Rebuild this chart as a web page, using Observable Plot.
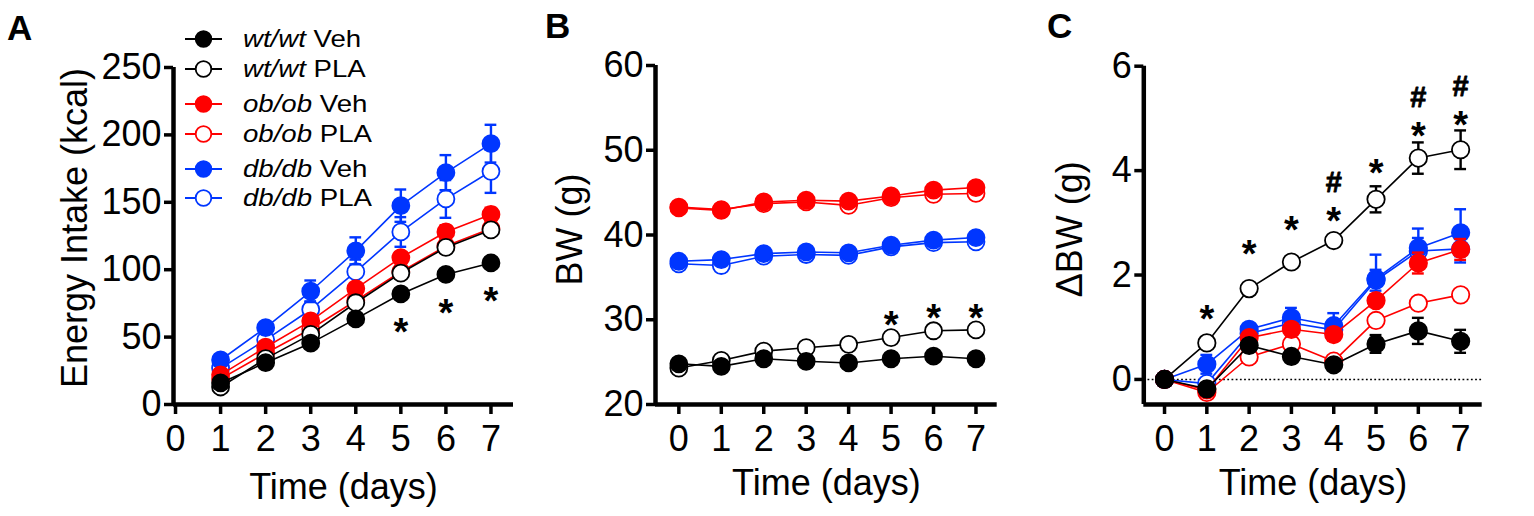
<!DOCTYPE html>
<html>
<head>
<meta charset="utf-8">
<script src="https://cdn.jsdelivr.net/npm/d3@7"></script>
<script src="https://cdn.jsdelivr.net/npm/@observablehq/plot@0.6"></script>
<style>
  html, body { margin: 0; padding: 0; background: #fff; }
  #root { position: relative; width: 1534px; height: 516px; overflow: hidden; font-family: 'Liberation Sans', Arial, sans-serif; }
  .pnl { position: absolute; top: 0; }
  .leg { position: absolute; left: 0; top: 0; }
  .legrow { position: absolute; height: 30px; display: flex; align-items: center; }
  .legtxt { font-size: 24px; transform: scaleX(1.15); transform-origin: left center; white-space: nowrap; color: #000; }
</style>
</head>
<body>
<div id="root"></div>
<script>
// ---------- data ----------
const seriesGenotype = ["wt/wt", "wt/wt", "ob/ob", "ob/ob", "db/db", "db/db"];
const seriesTreatment = ["Veh", "PLA", "Veh", "PLA", "Veh", "PLA"];
const seriesColor = ["#000000", "#000000", "#ff0000", "#ff0000", "#0036ff", "#0036ff"];
const seriesFilled = [true, false, true, false, true, false];
const drawOrder = [5, 4, 3, 2, 1, 0];

const daysA = [1, 2, 3, 4, 5, 6, 7];
const daysBC = [0, 1, 2, 3, 4, 5, 6, 7];
const xTickLabels = [0, 1, 2, 3, 4, 5, 6, 7];

// Panel A: Energy intake (kcal)
const wtVehA = [16, 31, 45.5, 63.5, 82, 96.5, 105];
const wtPlaA = [13, 34, 52, 75.5, 97.5, 116.5, 129.5];
const obVehA = [22, 42.5, 62, 86, 109, 128, 141];
const obPlaA = [19, 38, 56, 77, 98.5, 117.5, 130.5];
const dbVehA = [33, 57, 84, 114, 147.5, 172, 193.5];
const dbPlaA = [27, 48, 70.5, 98.5, 128, 152.5, 173];
const wtVehA_se = [1, 2, 2, 2.5, 3, 3, 3];
const wtPlaA_se = [1, 2, 2, 3, 3, 4, 4];
const obVehA_se = [1.5, 2, 3, 3, 4, 5, 5];
const obPlaA_se = [1.5, 2, 3, 3, 4, 5, 5];
const dbVehA_se = [3, 4, 8, 10, 12, 13, 14];
const dbPlaA_se = [3, 4, 6, 9, 11, 14, 16];
const starsAx = [5, 6, 7];
const starsAy = [60, 74, 83];
const yTicksA = [0, 50, 100, 150, 200, 250];

// Panel B: BW (g)
const wtVehB = [24.8, 24.5, 25.4, 25.1, 24.9, 25.4, 25.7, 25.4];
const wtPlaB = [24.3, 25.2, 26.3, 26.7, 27.1, 27.9, 28.7, 28.8];
const obVehB = [43.2, 42.9, 43.9, 44.1, 44.0, 44.6, 45.3, 45.6];
const obPlaB = [43.3, 43.0, 43.7, 43.9, 43.5, 44.4, 44.8, 44.9];
const dbVehB = [36.9, 37.1, 37.8, 38.0, 37.9, 38.8, 39.4, 39.7];
const dbPlaB = [36.6, 36.4, 37.5, 37.7, 37.6, 38.6, 39.1, 39.2];
const seB = [0.4, 0.4, 0.4, 0.4, 0.4, 0.4, 0.4, 0.4];
const starsBx = [5, 6, 7];
const starsBy = [30.3, 31.15, 31.15];
const yTicksB = [20, 30, 40, 50, 60];

// Panel C: ΔBW (g)
const wtVehC = [0, -0.18, 0.65, 0.44, 0.28, 0.68, 0.93, 0.73];
const wtPlaC = [0, 0.70, 1.74, 2.25, 2.66, 3.45, 4.24, 4.40];
const obVehC = [0, -0.20, 0.80, 0.96, 0.86, 1.51, 2.23, 2.49];
const obPlaC = [0, -0.25, 0.43, 0.68, 0.35, 1.13, 1.46, 1.62];
const dbVehC = [0, 0.29, 0.96, 1.18, 1.03, 1.93, 2.52, 2.81];
const dbPlaC = [0, -0.08, 0.88, 1.08, 0.95, 1.90, 2.46, 2.50];
const wtVehC_se = [0, 0.08, 0.1, 0.08, 0.08, 0.17, 0.25, 0.22];
const wtPlaC_se = [0, 0.08, 0.1, 0.1, 0.08, 0.25, 0.3, 0.37];
const obVehC_se = [0, 0.05, 0.1, 0.12, 0.12, 0.12, 0.2, 0.2];
const obPlaC_se = [0, 0.05, 0.1, 0.1, 0.1, 0.1, 0.1, 0.1];
const dbVehC_se = [0, 0.18, 0.1, 0.19, 0.24, 0.46, 0.37, 0.45];
const dbPlaC_se = [0, 0.1, 0.1, 0.12, 0.15, 0.2, 0.25, 0.26];
const starsCx = [1, 2, 3, 4, 5, 6, 7];
const starsCy = [1.32, 2.56, 3.01, 3.19, 4.12, 4.81, 5.03];
const hashCx = [4, 6, 7];
const hashCy = [3.78, 5.41, 5.63];
const yTicksC = [0, 2, 4, 6];

// ---------- drawing ----------
const FONT = "'Liberation Sans', Arial, Helvetica, sans-serif";
const root = document.getElementById("root");

function panel(cfg) {
  const marks = [];
  const cap = cfg.cap;
  if (cfg.zeroLine) {
    marks.push(Plot.ruleY([0], {stroke: "black", strokeWidth: 1.6, strokeDasharray: "1.8,2.4"}));
  }
  for (const i of drawOrder) {
    const c = seriesColor[i];
    const data = cfg.days.map((d, j) => ({x: d, y: cfg.values[i][j], se: cfg.se[i][j]}));
    const eb = data.filter(d => d.se > 0);
    marks.push(Plot.line(data, {x: "x", y: "y", stroke: c, strokeWidth: 1.6}));
    marks.push(Plot.ruleX(eb, {x: "x", y1: d => d.y - d.se, y2: d => d.y + d.se, stroke: c, strokeWidth: 2.4}));
    marks.push(Plot.ruleY(eb, {y: d => d.y + d.se, x1: d => d.x - cap, x2: d => d.x + cap, stroke: c, strokeWidth: 2.4}));
    marks.push(Plot.ruleY(eb, {y: d => d.y - d.se, x1: d => d.x - cap, x2: d => d.x + cap, stroke: c, strokeWidth: 2.4}));
    marks.push(Plot.dot(data, {x: "x", y: "y", r: cfg.r, fill: seriesFilled[i] ? c : "white", stroke: c, strokeWidth: 1.8}));
  }
  // significance marks
  marks.push(Plot.text(cfg.starsX.map((x, j) => ({x, y: cfg.starsY[j]})),
    {x: "x", y: "y", text: () => "*", fontSize: 38, fontWeight: "bold", lineAnchor: "middle", dy: 9, fill: "black"}));
  if (cfg.hashX) {
    marks.push(Plot.text(cfg.hashX.map((x, j) => ({x, y: cfg.hashY[j]})),
      {x: "x", y: "y", text: () => "#", fontSize: 29, fontWeight: "bold", lineAnchor: "middle", dy: 1,
       fill: "black", stroke: "black", strokeWidth: 0.8}));
  }
  // axes
  marks.push(Plot.axisY({ticks: cfg.yTicks, tickFormat: d => String(d), tickSize: 9, tickPadding: 3,
    fontSize: 36, strokeWidth: 3.5, label: null}));
  marks.push(Plot.axisX({ticks: xTickLabels, tickFormat: d => String(d), tickSize: 10, tickPadding: 11,
    fontSize: 36, strokeWidth: 3.5, label: null}));
  marks.push(Plot.ruleX([cfg.xDomain[0]], {stroke: "black", strokeWidth: 4.5}));
  marks.push(Plot.ruleY([cfg.yDomain[0]], {stroke: "black", strokeWidth: 4.5}));
  // axis titles
  marks.push(Plot.text(["Time (days)"], {frameAnchor: "bottom", dy: cfg.xLabelDy, fontSize: 36,
    textAnchor: "middle", lineAnchor: "middle", fill: "black"}));
  marks.push(Plot.text([cfg.yLabel], {frameAnchor: "left", rotate: -90, dx: cfg.yLabelDx, dy: cfg.yLabelDy,
    fontSize: 36, textAnchor: "middle", lineAnchor: "middle", fill: "black"}));

  const svg = Plot.plot({
    width: cfg.width, height: 516,
    marginLeft: cfg.marginLeft, marginRight: cfg.marginRight, marginTop: cfg.marginTop, marginBottom: 112,
    x: {type: "linear", domain: cfg.xDomain},
    y: {type: "linear", domain: cfg.yDomain},
    style: {fontFamily: FONT, background: "transparent", overflow: "visible", color: "black"},
    marks
  });
  const wrap = document.createElement("div");
  wrap.className = "pnl";
  wrap.style.left = cfg.left + "px";
  wrap.appendChild(svg);
  root.appendChild(wrap);
}

panel({
  left: 0, width: 520, marginLeft: 173, marginRight: 7, marginTop: 67,
  xDomain: [-0.045, 7.5], yDomain: [0, 250], yTicks: yTicksA, days: daysA, r: 8.5, cap: 0.13,
  values: [wtVehA, wtPlaA, obVehA, obPlaA, dbVehA, dbPlaA],
  se: [wtVehA_se, wtPlaA_se, obVehA_se, obPlaA_se, dbVehA_se, dbPlaA_se],
  starsX: starsAx, starsY: starsAy,
  yLabel: "Energy Intake (kcal)", yLabelDx: -98, yLabelDy: -8, xLabelDy: 83
});
panel({
  left: 520, width: 500, marginLeft: 135, marginRight: 23.3, marginTop: 65,
  xDomain: [-0.55, 7.5], yDomain: [20, 60], yTicks: yTicksB, days: daysBC, r: 8.5, cap: 0.14,
  values: [wtVehB, wtPlaB, obVehB, obPlaB, dbVehB, dbPlaB],
  se: [seB, seB, seB, seB, seB, seB],
  starsX: starsBx, starsY: starsBy,
  yLabel: "BW (g)", yLabelDx: -85, yLabelDy: -5.5, xLabelDy: 79
});
panel({
  left: 1020, width: 514, marginLeft: 123.3, marginRight: 52.3, marginTop: 65.7,
  xDomain: [-0.49, 7.51], yDomain: [-0.48, 6], yTicks: yTicksC, days: daysBC, r: 8.7, cap: 0.14, zeroLine: true,
  values: [wtVehC, wtPlaC, obVehC, obPlaC, dbVehC, dbPlaC],
  se: [wtVehC_se, wtPlaC_se, obVehC_se, obPlaC_se, dbVehC_se, dbPlaC_se],
  starsX: starsCx, starsY: starsCy, hashX: hashCx, hashY: hashCy,
  yLabel: "ΔBW (g)", yLabelDx: -73, yLabelDy: -6, xLabelDy: 79
});

// ---------- legend (panel A) ----------
const legendRowY = [39, 69, 104, 134, 169, 198];
const leg = document.createElement("div");
leg.className = "leg";
seriesGenotype.forEach((g, i) => {
  const row = document.createElement("div");
  row.className = "legrow";
  row.style.left = "185px";
  row.style.top = (legendRowY[i] - 15) + "px";
  const c = seriesColor[i];
  row.innerHTML =
    `<svg width="37" height="30" style="display:block;overflow:visible">
       <line x1="0" x2="37" y1="15" y2="15" stroke="${c}" stroke-width="2"/>
       <circle cx="18.5" cy="15" r="7.8" fill="${seriesFilled[i] ? c : "white"}" stroke="${c}" stroke-width="1.8"/>
     </svg>
     <span class="legtxt" style="margin-left:21px"><i>${g}</i> ${seriesTreatment[i]}</span>`;
  leg.appendChild(row);
});
root.appendChild(leg);

// ---------- panel letters ----------
const panelLetters = ["A", "B", "C"];
const letterX = [7, 545, 1047];
const letterBase = [40, 38, 38];
const ns = "http://www.w3.org/2000/svg";
const lsvg = document.createElementNS(ns, "svg");
lsvg.setAttribute("width", 1534); lsvg.setAttribute("height", 516);
lsvg.style.position = "absolute"; lsvg.style.left = "0"; lsvg.style.top = "0"; lsvg.style.pointerEvents = "none";
panelLetters.forEach((t, i) => {
  const tx = document.createElementNS(ns, "text");
  tx.setAttribute("x", letterX[i]); tx.setAttribute("y", letterBase[i]);
  tx.setAttribute("font-size", 35); tx.setAttribute("font-weight", "bold");
  tx.setAttribute("font-family", FONT);
  tx.textContent = t;
  lsvg.appendChild(tx);
});
root.appendChild(lsvg);
</script>
</body>
</html>
